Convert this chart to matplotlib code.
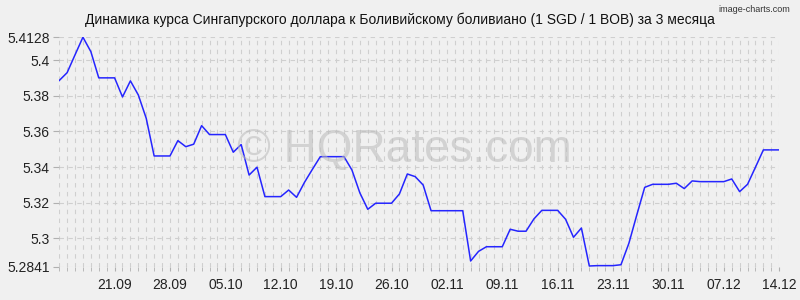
import matplotlib
matplotlib.use('Agg')
import matplotlib.pyplot as plt
import matplotlib.dates as mdates
import pandas as pd

# курс SGD/BOB, ежедневно 14.09 - 14.12
dates = pd.date_range('2023-09-14', '2023-12-14', freq='D')
rates = [
    5.3885, 5.3929, 5.4029, 5.4128, 5.4047, 5.3900, 5.3900, 5.3900, 5.3793, 5.3883,
    5.3804, 5.3673, 5.3462, 5.3462, 5.3462, 5.3548, 5.3514, 5.3528, 5.3632, 5.3582,
    5.3582, 5.3582, 5.3483, 5.3526, 5.3355, 5.3399, 5.3234, 5.3234, 5.3234, 5.3271,
    5.3230, 5.3314, 5.3387, 5.3458, 5.3458, 5.3458, 5.3458, 5.3383, 5.3255, 5.3163,
    5.3197, 5.3197, 5.3197, 5.3249, 5.3361, 5.3346, 5.3299, 5.3155, 5.3155, 5.3155,
    5.3155, 5.3155, 5.2873, 5.2927, 5.2953, 5.2953, 5.2953, 5.3051, 5.3040, 5.3040,
    5.3109, 5.3157, 5.3157, 5.3157, 5.3107, 5.3006, 5.3058, 5.2845, 5.2847, 5.2847,
    5.2847, 5.2852, 5.2972, 5.3131, 5.3286, 5.3303, 5.3303, 5.3303, 5.3309, 5.3279,
    5.3322, 5.3318, 5.3318, 5.3318, 5.3318, 5.3333, 5.3262, 5.3303, 5.3399, 5.3496,
    5.3496, 5.3496,
]
y_ticks = [5.2841, 5.3, 5.32, 5.34, 5.36, 5.38, 5.4, 5.4128]
y_labels = ['5.2841', '5.3', '5.32', '5.34', '5.36', '5.38', '5.4', '5.4128']
x_ticks = pd.date_range('2023-09-21', '2023-12-14', freq='7D')
title = 'Динамика курса Сингапурского доллара к Боливийскому боливиано (1 SGD / 1 BOB) за 3 месяца'

plt.rcParams['font.family'] = ['Liberation Sans', 'DejaVu Sans']

fig = plt.figure(figsize=(8, 3), dpi=100, facecolor='#f0f0f0')
ax = fig.add_axes([0.074, 0.111, 0.9, 0.765])
ax.set_facecolor('#f0f0f0')

ax.plot(dates, rates, color='#2525ff', lw=1.1, zorder=3)

ax.set_xlim(dates[0], dates[-1])
ax.set_ylim(y_ticks[0], y_ticks[-1])

ax.set_yticks(y_ticks)
ax.set_yticklabels(y_labels)
ax.set_xticks(x_ticks)
ax.set_xticklabels([d.strftime('%d.%m') for d in x_ticks])
ax.xaxis.set_minor_locator(mdates.DayLocator())

for s in ax.spines.values():
    s.set_visible(False)

ax.grid(which='both', axis='x', color='#cfcfcf', ls=(0, (4, 4)), lw=0.8)
ax.grid(which='major', axis='y', color='#cfcfcf', ls=(0, (4, 4)), lw=0.8)
ax.tick_params(axis='both', which='both', colors='#b0b0b0', labelcolor='#222222', labelsize=10)
ax.tick_params(axis='y', length=4, pad=3)
ax.tick_params(axis='x', which='both', length=3, pad=5)

fig.text(0.5, 0.935, title, ha='center', va='center', fontsize=10, color='#111111')
fig.text(0.988, 0.985, 'image-charts.com', ha='right', va='top', fontsize=6.5, color='#333333')
fig.text(0.505, 0.5, '© HQRates.com', ha='center', va='center', fontsize=33,
         color='#bbbbbb', alpha=0.55, zorder=1)

fig.savefig('out.png', dpi=100, facecolor=fig.get_facecolor())
